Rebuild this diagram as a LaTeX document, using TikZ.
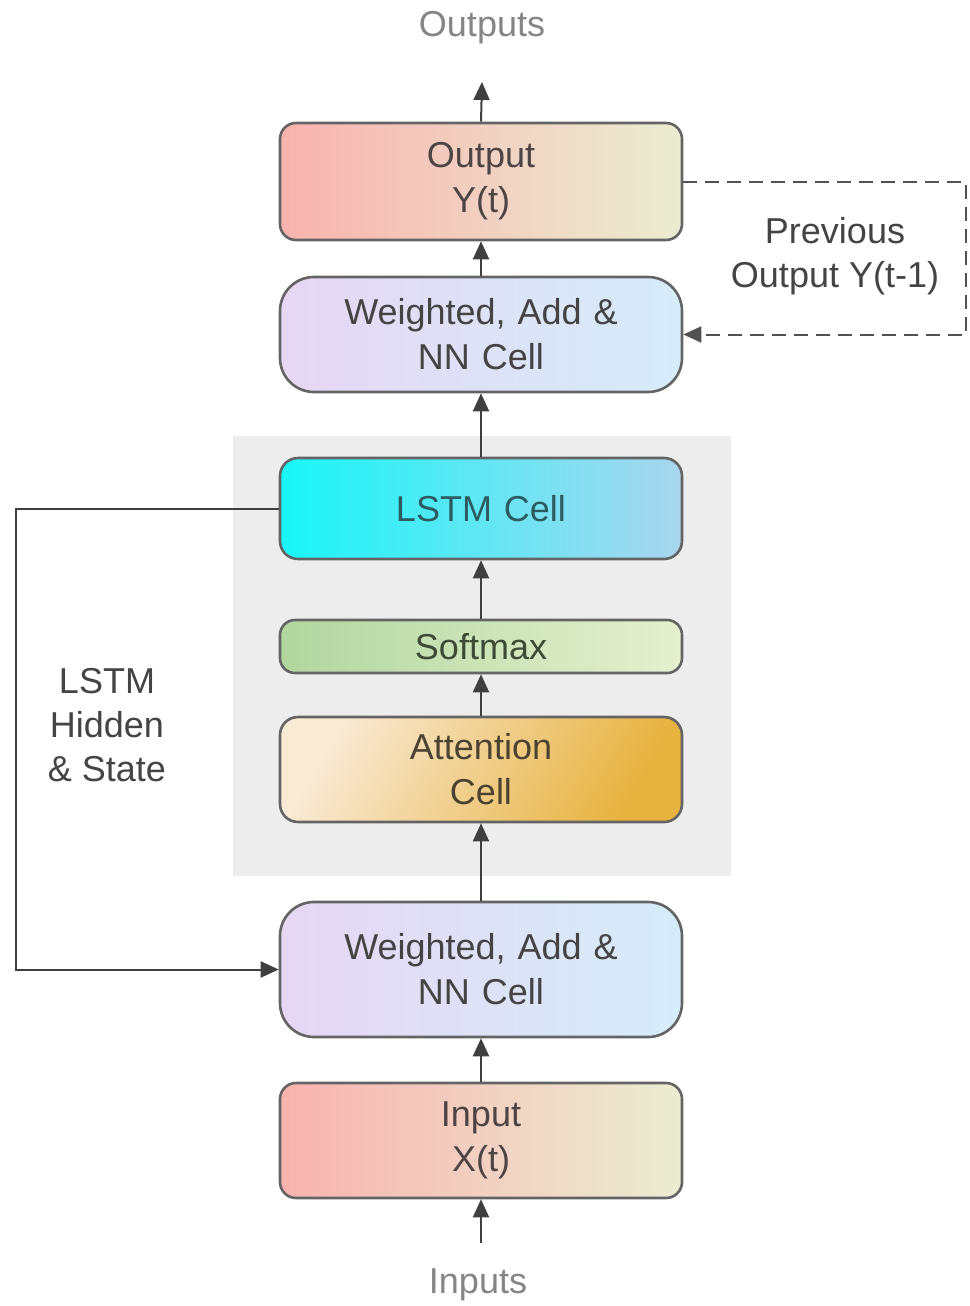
\documentclass[tikz,border=0pt]{standalone}
\usepackage{fontspec}
\setmainfont{Liberation Sans}
\usetikzlibrary{arrows.meta}

\definecolor{lineC}{HTML}{3F3F3F}
\definecolor{edgeC}{HTML}{646464}
\definecolor{txtC}{HTML}{444444}
\definecolor{outerTxt}{HTML}{858585}
\definecolor{panelC}{HTML}{EDEDED}
\definecolor{pinkL}{HTML}{F9B3AF}
\definecolor{creamR}{HTML}{EAEDD3}
\definecolor{lavL}{HTML}{E6D7F4}
\definecolor{skyR}{HTML}{D6ECFA}
\definecolor{cyanL}{HTML}{18F6F8}
\definecolor{cyanR}{HTML}{AAD6EE}
\definecolor{greenL}{HTML}{B2D6A0}
\definecolor{greenR}{HTML}{E6F0CF}
\definecolor{attL}{HTML}{F9EAD6}
\definecolor{attR}{HTML}{E7B23E}
\definecolor{lstmTxt}{HTML}{2C5C62}
\definecolor{softTxt}{HTML}{3C4A36}
\definecolor{attTxt}{HTML}{4C4232}
\definecolor{warmTxt}{HTML}{4E4444}

\tikzset{
  cell/.style={draw=edgeC, line width=2.6pt, minimum width=402pt, inner sep=0pt,
    text width=400pt, align=center, text=txtC,
    font=\fontsize{36}{45}\selectfont},
  arr/.style={draw=lineC, line width=2pt, -{Triangle[length=18pt,width=16pt]}},
  dasharr/.style={draw=lineC!90, line width=2pt, dash pattern=on 14pt off 8pt,
    -{Triangle[length=18pt,width=16pt]}},
  lbl/.style={align=center, text=txtC, font=\fontsize{36}{44}\selectfont},
  outer/.style={text=outerTxt, font=\fontsize{36}{44}\selectfont}
}

\begin{document}
\begin{tikzpicture}[x=1pt,y=-1pt]
\useasboundingbox (0,0) rectangle (969,1306);
\fill[white] (0,0) rectangle (969,1306);

% grey panel behind the attention / LSTM stage
\fill[panelC] (233,436) rectangle (731,876);

% cells
\node[cell, minimum height=117pt, rounded corners=16pt, text=warmTxt,
      left color=pinkL, right color=creamR] (out) at (481,181.5) {Output\\Y(t)};
\node[cell, minimum height=115pt, rounded corners=34pt,
      left color=lavL, right color=skyR] (wan2) at (481,334.5) {Weighted, Add \&\\NN Cell};
\node[cell, minimum height=101pt, rounded corners=18pt, text=lstmTxt,
      left color=cyanL, right color=cyanR] (lstm) at (481,508.5) {LSTM Cell};
\node[cell, minimum height=53pt, rounded corners=15pt, text=softTxt,
      left color=greenL, right color=greenR] (soft) at (481,646.5) {Softmax};
\node[cell, minimum height=105pt, rounded corners=18pt, text=attTxt,
      left color=attL, right color=attR, shading angle=60] (att) at (481,769.5) {Attention\\Cell};
\node[cell, minimum height=135pt, rounded corners=34pt,
      left color=lavL, right color=skyR] (wan1) at (481,969.5) {Weighted, Add \&\\NN Cell};
\node[cell, minimum height=115pt, rounded corners=16pt, text=warmTxt,
      left color=pinkL, right color=creamR] (in) at (481,1140.5) {Input\\X(t)};

% outer labels
\node[outer] (outs) at (482,28) {Outputs};
\node[outer] (ins) at (478,1285) {Inputs};
\coordinate (outTip) at (482,82);
\coordinate (inTail) at (482,1243);

% main upward flow
\draw[arr] (in.south |- inTail) -- (in.south);
\draw[arr] (in.north) -- (wan1.south);
\draw[arr] (wan1.north) -- (att.south);
\draw[arr] (att.north) -- (soft.south);
\draw[arr] (soft.north) -- (lstm.south);
\draw[arr] (lstm.north) -- (wan2.south);
\draw[arr] (wan2.north) -- (out.south);
\draw[arr] (out.north) -- (outTip);

% feedback of the previous output
\draw[dasharr] (out.east) -- ++(283,0) |- (wan2.east);
\node[lbl] (prev) at (835,256) {Previous\\Output Y(t-1)};

% LSTM hidden state loop
\draw[arr] (lstm.west) -- ++(-263,0) |- (wan1.west);
\node[lbl] (hid) at (107,725) {LSTM\\Hidden\\\& State};
\end{tikzpicture}
\end{document}
